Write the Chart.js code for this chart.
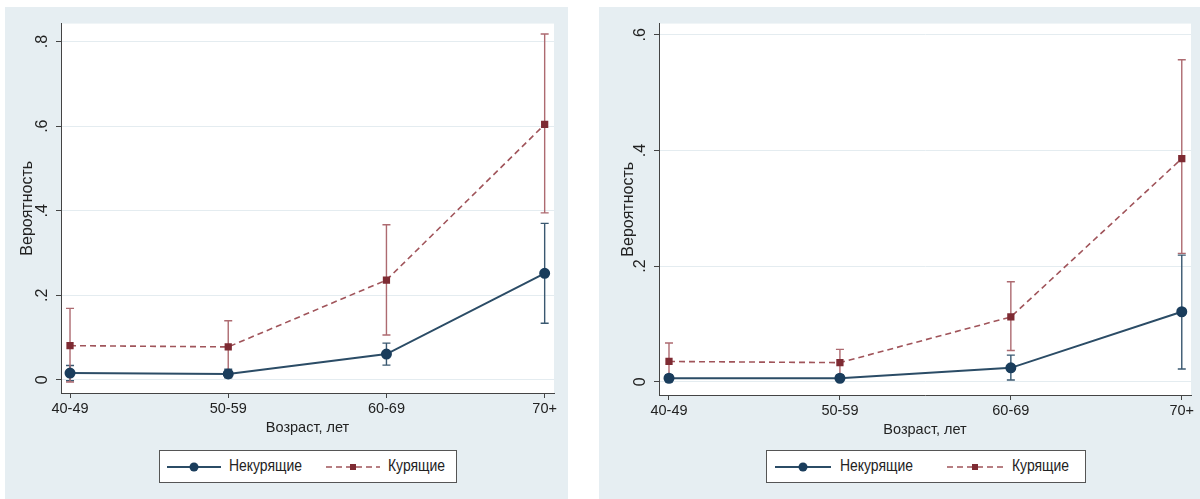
<!DOCTYPE html>
<html>
<head>
<meta charset="utf-8">
<script src="https://cdn.jsdelivr.net/npm/chart.js@4"></script>
<style>
body { margin: 0; background: #fff; width: 1200px; height: 499px; position: relative; overflow: hidden; font-family: "Liberation Sans", Arial, sans-serif; }
.panel { position: absolute; top: 7px; height: 492px; background: #e6eef2; }
#p1 { left: 5px; width: 563px; }
#p2 { left: 599px; width: 601px; }
.panel canvas { position: absolute; left: 0; top: 0; }
.legend { position: absolute; top: 443px; height: 31px; border: 1px solid #555; background: #fff; font-family: "Liberation Sans", Arial, sans-serif; font-size: 16px; color: #222; }
.legend svg, .legend span { position: absolute; }
.legend svg { top: 10px; }
.legend span { top: 6px; transform: scaleX(0.87); transform-origin: left center; white-space: nowrap; }
</style>
</head>
<body>

<div class="panel" id="p1">
  <canvas id="chart1" width="563" height="492"></canvas>
  <div class="legend" style="left:154px;width:296px">
    <svg width="54" height="12" style="left:7px"><line x1="0" y1="6" x2="54" y2="6" stroke="#2b4c66" stroke-width="2"/><circle cx="27" cy="6" r="4.5" fill="#1a3d5c"/></svg>
    <span style="left:69px">Некурящие</span>
    <svg width="54" height="12" style="left:166px"><line x1="0" y1="6" x2="54" y2="6" stroke="#a0545a" stroke-width="1.5" stroke-dasharray="6,4"/><rect x="24" y="3" width="6" height="6" fill="#7e2b33"/></svg>
    <span style="left:228px">Курящие</span>
  </div>
</div>

<div class="panel" id="p2">
  <canvas id="chart2" width="601" height="492"></canvas>
  <div class="legend" style="left:167px;width:318px">
    <svg width="56" height="12" style="left:8px"><line x1="0" y1="6" x2="56" y2="6" stroke="#2b4c66" stroke-width="2"/><circle cx="28" cy="6" r="4.5" fill="#1a3d5c"/></svg>
    <span style="left:73px">Некурящие</span>
    <svg width="56" height="12" style="left:180px"><line x1="0" y1="6" x2="56" y2="6" stroke="#a0545a" stroke-width="1.5" stroke-dasharray="6,4"/><rect x="25" y="3" width="6" height="6" fill="#7e2b33"/></svg>
    <span style="left:245px">Курящие</span>
  </div>
</div>

<script>
// age groups on the x axis
let ages = ['40-49', '50-59', '60-69', '70+'];

// left panel
let nonSmokers1 = [0.016, 0.014, 0.061, 0.252];
let nonSmokersLo1 = [-0.002, 0.005, 0.035, 0.134];
let nonSmokersHi1 = [0.034, 0.025, 0.087, 0.370];
let smokers1 = [0.081, 0.078, 0.236, 0.604];
let smokersLo1 = [-0.005, 0.015, 0.106, 0.395];
let smokersHi1 = [0.169, 0.140, 0.367, 0.818];
let yTicks1 = [0, 0.2, 0.4, 0.6, 0.8];
let yLabels1 = ['0', '.2', '.4', '.6', '.8'];

// right panel
let nonSmokers2 = [0.006, 0.006, 0.024, 0.121];
let nonSmokersLo2 = [0.000, 0.002, 0.003, 0.022];
let nonSmokersHi2 = [0.012, 0.010, 0.046, 0.219];
let smokers2 = [0.035, 0.033, 0.112, 0.386];
let smokersLo2 = [0.006, 0.012, 0.054, 0.222];
let smokersHi2 = [0.067, 0.056, 0.173, 0.557];
let yTicks2 = [0, 0.2, 0.4, 0.6];
let yLabels2 = ['0', '.2', '.4', '.6'];

let font = '"Liberation Sans", Arial, sans-serif';

// white plot region
let plotBg = {
    id: 'plotBg',
    beforeDraw(chart) {
        let a = chart.chartArea;
        chart.ctx.save();
        chart.ctx.fillStyle = '#ffffff';
        chart.ctx.fillRect(a.left, a.top, a.right - a.left, a.bottom - a.top);
        chart.ctx.restore();
    }
};

// confidence intervals, drawn through the chart scales
let errorBars = {
    id: 'errorBars',
    beforeDatasetsDraw(chart) {
        let ctx = chart.ctx;
        let x = chart.scales.x;
        let y = chart.scales.y;
        chart.data.datasets.forEach(function (ds) {
            ctx.save();
            ctx.strokeStyle = ds.ciColor;
            ctx.lineWidth = 1.4;
            ds.lo.forEach(function (lo, i) {
                let px = x.getPixelForValue(i);
                let y1 = y.getPixelForValue(lo);
                let y2 = y.getPixelForValue(ds.hi[i]);
                ctx.beginPath();
                ctx.moveTo(px, y1); ctx.lineTo(px, y2);
                ctx.moveTo(px - 4, y1); ctx.lineTo(px + 4, y1);
                ctx.moveTo(px - 4, y2); ctx.lineTo(px + 4, y2);
                ctx.stroke();
            });
            ctx.restore();
        });
    }
};

function toPoints(arr) {
    return arr.map(function (v, i) { return { x: i, y: v }; });
}

function makeChart(id, s) {
    return new Chart(document.getElementById(id), {
        type: 'line',
        data: {
            datasets: [{
                label: 'Некурящие',
                data: toPoints(s.non),
                lo: s.nonLo,
                hi: s.nonHi,
                ciColor: '#3a5870',
                borderColor: '#2b4c66',
                borderWidth: 2,
                pointStyle: 'circle',
                pointRadius: 4.5,
                pointBackgroundColor: '#1a3d5c',
                pointBorderColor: '#1a3d5c',
                tension: 0
            }, {
                label: 'Курящие',
                data: toPoints(s.smk),
                lo: s.smkLo,
                hi: s.smkHi,
                ciColor: '#ad6a70',
                borderColor: '#a0545a',
                borderWidth: 1.6,
                borderDash: [6, 4],
                pointStyle: 'rect',
                pointRadius: 4,
                pointBackgroundColor: '#7e2b33',
                pointBorderColor: '#7e2b33',
                tension: 0
            }]
        },
        options: {
            responsive: false,
            animation: false,
            layout: { padding: { left: 0, top: 16, right: s.padRight, bottom: s.padBottom } },
            plugins: { legend: { display: false }, tooltip: { enabled: false } },
            scales: {
                x: {
                    type: 'linear',
                    min: s.xMin,
                    max: s.xMax,
                    afterBuildTicks: function (sc) { sc.ticks = ages.map(function (a, i) { return { value: i }; }); },
                    afterFit: function (sc) { sc.height = 49; },
                    grid: { drawOnChartArea: false, tickLength: 5, color: '#444', tickColor: '#444' },
                    border: { color: '#444', width: 1 },
                    ticks: {
                        autoSkip: false, maxRotation: 0, padding: 2.5, color: '#222',
                        font: { family: font, size: 14.5 },
                        callback: function (v) { return ages[v]; }
                    },
                    title: {
                        display: true, text: 'Возраст, лет', color: '#222',
                        font: { family: font, size: 14.5 },
                        padding: { top: 0, bottom: 5 }
                    }
                },
                y: {
                    min: s.yMin,
                    max: s.yMax,
                    afterBuildTicks: function (sc) { sc.ticks = s.yTicks.map(function (v) { return { value: v }; }); },
                    afterFit: function (sc) { sc.width = s.yWidth; },
                    grid: { color: '#e4ecf0', tickColor: '#444', tickLength: 5, lineWidth: 1 },
                    border: { color: '#444', width: 1 },
                    ticks: {
                        minRotation: 90, maxRotation: 90, crossAlign: 'center', padding: 7, color: '#222',
                        font: { family: font, size: 16 },
                        callback: function (v, i) { return s.yLabels[i]; }
                    },
                    title: {
                        display: true, text: 'Вероятность', color: '#222',
                        font: { family: font, size: 16 },
                        padding: { top: s.titlePad, bottom: 0 }
                    }
                }
            }
        },
        plugins: [plotBg, errorBars]
    });
}

makeChart('chart1', {
    non: nonSmokers1, nonLo: nonSmokersLo1, nonHi: nonSmokersHi1,
    smk: smokers1, smkLo: smokersLo1, smkHi: smokersHi1,
    yTicks: yTicks1, yLabels: yLabels1,
    xMin: -0.057, xMax: 3.059, yMin: -0.031, yMax: 0.8425,
    yWidth: 56, padRight: 14, padBottom: 57, titlePad: 13.4
});

makeChart('chart2', {
    non: nonSmokers2, nonLo: nonSmokersLo2, nonHi: nonSmokersHi2,
    smk: smokers2, smkLo: smokersLo2, smkHi: smokersHi2,
    yTicks: yTicks2, yLabels: yLabels2,
    xMin: -0.0585, xMax: 3.054, yMin: -0.023, yMax: 0.6195,
    yWidth: 60, padRight: 9, padBottom: 55, titlePad: 20.1
});
</script>
</body>
</html>
